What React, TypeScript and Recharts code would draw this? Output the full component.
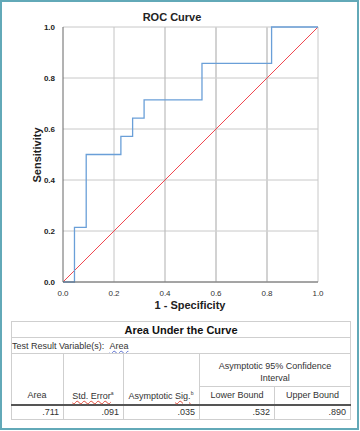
import React from 'react';
import { LineChart, Line, XAxis, YAxis, CartesianGrid, ReferenceLine } from 'recharts';

// ROC coordinates (1 - specificity, sensitivity)
const fpr = [0, 0.045, 0.045, 0.091, 0.091, 0.227, 0.227, 0.273, 0.273, 0.318, 0.318, 0.545, 0.545, 0.818, 0.818, 1];
const tpr = [0, 0, 0.214, 0.214, 0.5, 0.5, 0.571, 0.571, 0.643, 0.643, 0.714, 0.714, 0.857, 0.857, 1, 1];
const refX = [0, 1];
const refY = [0, 1];
const ticks = [0, 0.2, 0.4, 0.6, 0.8, 1];

// table values
const aucHeaders = ['Area', 'Std. Error', 'Asymptotic Sig.', 'Lower Bound', 'Upper Bound'];
const aucValues = ['.711', '.091', '.035', '.532', '.890'];

const curve = fpr.map((x, i) => ({ x, y: tpr[i] }));
const diagonal = refX.map((x, i) => ({ x, y: refY[i] }));

const font = '"Liberation Sans", Arial, sans-serif';

const squiggle = (color: string): React.CSSProperties => ({
  textDecorationLine: 'underline',
  textDecorationStyle: 'wavy',
  textDecorationColor: color,
  textDecorationThickness: 0.5,
});

const App: React.FC = () => {
  const cell: React.CSSProperties = { padding: 0, overflow: 'hidden', whiteSpace: 'nowrap' };
  const vline = '1px solid #cfcfcf';
  const head: React.CSSProperties = { position: 'absolute', top: 390, textAlign: 'center', fontSize: 9, color: '#333', whiteSpace: 'nowrap' };

  return (
    <div style={{ position: 'absolute', left: 0, top: 0, width: 360, height: 431, background: '#fff', fontFamily: font }}>
      <div style={{ position: 'absolute', left: 0, top: 0, width: 359, height: 430, border: '2px solid #62a9b8', boxSizing: 'border-box' }} />

      <div style={{ position: 'absolute', left: 100, top: 11, width: 144, textAlign: 'center', fontSize: 11, fontWeight: 'bold', color: '#222' }}>
        ROC Curve
      </div>

      <div style={{ position: 'absolute', left: 0, top: 0 }}>
        <LineChart width={360} height={315} margin={{ top: 27, right: 42, bottom: 13, left: 43 }}>
          <CartesianGrid vertical={false} stroke="#c8c8c8" strokeWidth={1} />
          <XAxis
            type="number"
            dataKey="x"
            domain={[0, 1]}
            ticks={ticks}
            tickFormatter={(v: number) => v.toFixed(1)}
            allowDuplicatedCategory={false}
            axisLine={{ stroke: '#666' }}
            tickLine={false}
            tick={{ fontSize: 8, fill: '#333', fontFamily: font }}
            height={20}
          />
          <YAxis
            type="number"
            dataKey="y"
            domain={[0, 1]}
            ticks={ticks}
            tickFormatter={(v: number) => v.toFixed(1)}
            axisLine={{ stroke: '#666' }}
            tickLine={false}
            tick={{ fontSize: 8, fill: '#222', fontWeight: 'bold', fontFamily: font }}
            width={20}
          />
          <ReferenceLine x={0.2} stroke="#c4c4c4" strokeWidth={1} />
          <ReferenceLine x={0.4} stroke="#bdbdbd" strokeWidth={1.2} />
          <ReferenceLine x={0.6} stroke="#d2d2d2" strokeWidth={2} />
          <ReferenceLine x={0.8} stroke="#d2d2d2" strokeWidth={2} />
          <ReferenceLine x={1} stroke="#c8c8c8" strokeWidth={1} />
          <Line data={diagonal} dataKey="y" type="linear" stroke="#f0474f" strokeWidth={1} dot={false} isAnimationActive={false} />
          <Line data={curve} dataKey="y" type="linear" stroke="#6a9fd8" strokeWidth={1.3} dot={false} isAnimationActive={false} />
        </LineChart>
      </div>

      <div style={{ position: 'absolute', left: 8, top: 148, width: 60, height: 14, transform: 'rotate(-90deg)', textAlign: 'center', fontSize: 11, fontWeight: 'bold', color: '#222' }}>
        Sensitivity
      </div>
      <div style={{ position: 'absolute', left: 140, top: 299, width: 100, textAlign: 'center', fontSize: 11, fontWeight: 'bold', color: '#222' }}>
        1 - Specificity
      </div>

      <table
        style={{
          position: 'absolute', left: 11, top: 321, width: 339, borderCollapse: 'collapse', tableLayout: 'fixed',
          fontFamily: font, fontSize: 9, color: '#333', border: '1px solid #cfcfcf',
        }}
      >
        <colgroup>
          <col style={{ width: 52 }} />
          <col style={{ width: 60 }} />
          <col style={{ width: 76 }} />
          <col style={{ width: 75 }} />
          <col style={{ width: 76 }} />
        </colgroup>
        <tbody>
          <tr style={{ height: 16 }}>
            <td colSpan={5} style={{ ...cell, textAlign: 'center', fontWeight: 'bold', fontSize: 11, color: '#111', borderBottom: vline }}>
              Area Under the Curve
            </td>
          </tr>
          <tr style={{ height: 16 }}>
            <td colSpan={5} style={{ ...cell, textAlign: 'left', borderBottom: vline }}>
              Test Result Variable(s):&nbsp;&nbsp;<span style={squiggle('#5a6fd0')}>Area</span>
            </td>
          </tr>
          <tr style={{ height: 17 }}>
            <td rowSpan={3} style={{ ...cell, borderRight: vline }} />
            <td rowSpan={3} style={{ ...cell, borderRight: vline }} />
            <td rowSpan={3} style={{ ...cell, borderRight: vline }} />
            <td colSpan={2} style={{ ...cell, textAlign: 'center', verticalAlign: 'bottom' }}>
              Asymptotic 95% Confidence
            </td>
          </tr>
          <tr style={{ height: 16 }}>
            <td colSpan={2} style={{ ...cell, textAlign: 'center', borderBottom: vline }}>
              Interval
            </td>
          </tr>
          <tr style={{ height: 18, borderBottom: '2px solid #555' }}>
            <td style={{ ...cell, textAlign: 'center', borderRight: vline }}>{aucHeaders[3]}</td>
            <td style={{ ...cell, textAlign: 'center' }}>{aucHeaders[4]}</td>
          </tr>
          <tr style={{ height: 15 }}>
            {aucValues.map((v, i) => (
              <td key={i} style={{ ...cell, textAlign: 'right', paddingRight: 4, borderRight: i < 4 ? vline : undefined }}>
                {v}
              </td>
            ))}
          </tr>
        </tbody>
      </table>

      {/* column headers sitting at the bottom of the tall header cells */}
      <div style={{ ...head, left: 11, width: 52 }}>{aucHeaders[0]}</div>
      <div style={{ ...head, left: 63, width: 60 }}>
        <span style={squiggle('#e04a3a')}>Std. Error</span><sup style={{ fontSize: 5 }}>a</sup>
      </div>
      <div style={{ ...head, left: 123, width: 76 }}>
        Asymptotic <span style={squiggle('#e04a3a')}>Sig.</span><sup style={{ fontSize: 5 }}>b</sup>
      </div>
    </div>
  );
};

export default App;
